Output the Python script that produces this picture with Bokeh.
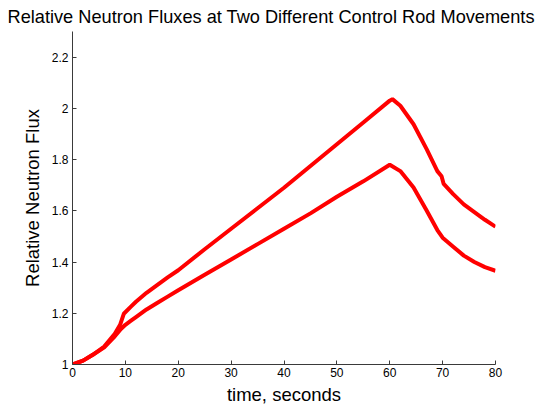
from bokeh.plotting import figure
from bokeh.embed import file_html
from bokeh.resources import INLINE
from bokeh.models import FixedTicker, CustomJSTickFormatter, Range1d

# time values (seconds)
t_upper = [0, 2, 4, 6, 8, 9, 9.7, 11, 12, 14, 16, 18, 20, 25, 30, 35, 40, 45, 50, 55, 60, 60.5,
           62, 64.5, 67, 69, 69.8, 70.2, 72, 74, 76, 78, 80]
flux_upper = [1.0, 1.015, 1.04, 1.07, 1.12, 1.155, 1.198, 1.225, 1.245, 1.28, 1.31, 1.34, 1.368,
              1.45, 1.53, 1.61, 1.69, 1.775, 1.86, 1.945, 2.03, 2.036,
              2.01, 1.938, 1.84, 1.755, 1.735, 1.705, 1.665, 1.625, 1.595, 1.565, 1.538]

t_lower = [0, 2, 4, 6, 8, 9, 10, 11, 12, 14, 16, 18, 20, 25, 30, 35, 40, 45, 50, 55, 60,
           62, 64.5, 67, 69, 70, 72, 74, 76, 78, 80]
flux_lower = [1.0, 1.015, 1.04, 1.067, 1.11, 1.135, 1.155, 1.17, 1.185, 1.215, 1.24, 1.265, 1.29,
              1.35, 1.41, 1.47, 1.53, 1.59, 1.655, 1.715, 1.78,
              1.755, 1.691, 1.60, 1.525, 1.495, 1.46, 1.425, 1.40, 1.38, 1.366]

x_ticks = [0, 10, 20, 30, 40, 50, 60, 70, 80]
y_ticks = [1.0, 1.2, 1.4, 1.6, 1.8, 2.0, 2.2]

p = figure(width=548, height=408, output_backend="svg", toolbar_location=None,
           x_range=Range1d(0, 80), y_range=Range1d(1, 2.3),
           min_border_left=72, min_border_right=53, min_border_top=31, min_border_bottom=44)

p.title.text = "Relative Neutron Fluxes at Two Different Control Rod Movements"
p.title.align = "left"
p.title.offset = -65
p.title.text_font = "Liberation Sans"
p.title.text_font_size = "18.2px"
p.title.text_font_style = "normal"
p.title.text_color = "black"
p.title.standoff = 9

p.line(t_upper, flux_upper, line_color="#ff0000", line_width=4)
p.line(t_lower, flux_lower, line_color="#ff0000", line_width=4)

p.grid.visible = False
p.outline_line_color = None
p.background_fill_color = "white"
p.border_fill_color = "white"

for ax in (p.xaxis[0], p.yaxis[0]):
    ax.axis_line_color = "#3a3a3a"
    ax.axis_line_width = 1
    ax.major_tick_line_color = "#3a3a3a"
    ax.major_tick_in = 4
    ax.major_tick_out = 0
    ax.minor_tick_line_color = None
    ax.major_label_text_font = "Liberation Sans"
    ax.major_label_text_font_size = "12px"
    ax.major_label_text_color = "black"
    ax.axis_label_text_font = "Liberation Sans"
    ax.axis_label_text_font_size = "18.5px"
    ax.axis_label_text_font_style = "normal"
    ax.axis_label_text_color = "black"

p.xaxis.ticker = FixedTicker(ticks=x_ticks)
p.yaxis.ticker = FixedTicker(ticks=y_ticks)
p.yaxis.formatter = CustomJSTickFormatter(code="return String(Math.round(tick*10)/10);")
p.xaxis.axis_label = "time, seconds"
p.yaxis.axis_label = "Relative Neutron Flux"
p.xaxis.major_label_standoff = 3
p.yaxis.major_label_standoff = 4
p.xaxis.axis_label_standoff = 4
p.yaxis.axis_label_standoff = 6

open("out.html", "w").write(file_html(p, INLINE))
